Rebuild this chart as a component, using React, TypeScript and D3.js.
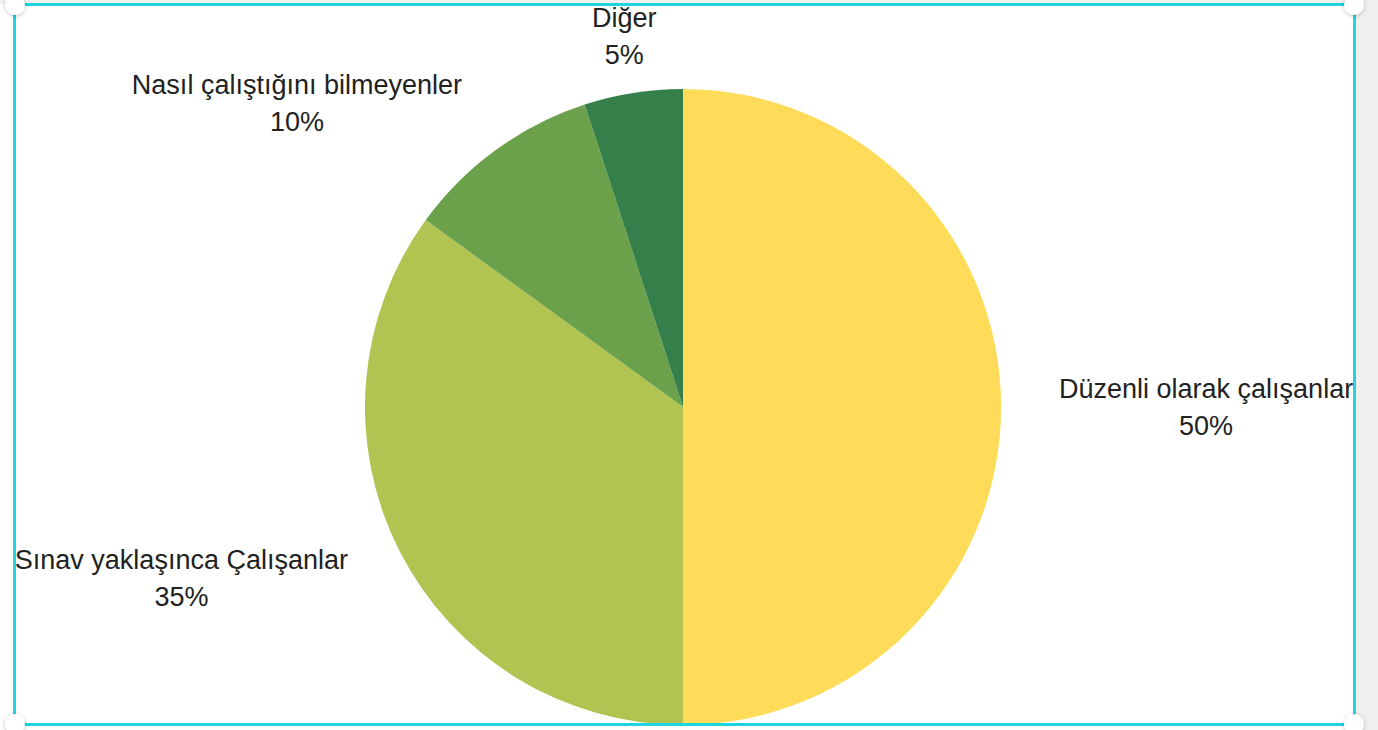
import React, { useEffect, useRef } from "react";
import * as d3 from "d3";

const categories = [
  "Düzenli olarak çalışanlar",
  "Sınav yaklaşınca Çalışanlar",
  "Nasıl çalıştığını bilmeyenler",
  "Diğer",
];
const values = [50, 35, 10, 5];
const colors = ["#fedc5a", "#b1c350", "#6ba14b", "#35804a"];

const App: React.FC = () => {
  const svgRef = useRef<SVGSVGElement | null>(null);

  useEffect(() => {
    const width = 1378;
    const height = 730;
    const cx = 683;
    const cy = 407;
    const radius = 318;
    const labelRadius = radius + 58;
    const fontSize = 27;
    const lineGap = 37;

    const svg = d3.select(svgRef.current);
    svg.selectAll("*").remove();
    svg.attr("width", width).attr("height", height);

    // page background + frame
    svg.append("rect").attr("width", width).attr("height", height).attr("fill", "#f0efee");
    svg.append("rect").attr("x", 0).attr("y", 4).attr("width", 1356).attr("height", height - 4).attr("fill", "#fff");

    const defs = svg.append("defs");
    defs.append("clipPath").attr("id", "frame")
      .append("rect").attr("x", 14).attr("y", 4).attr("width", 1341).attr("height", 721);
    const shadow = defs.append("filter").attr("id", "hshadow")
      .attr("x", "-50%").attr("y", "-50%").attr("width", "200%").attr("height", "200%");
    shadow.append("feDropShadow").attr("dx", 0).attr("dy", 1).attr("stdDeviation", 2)
      .attr("flood-color", "#000").attr("flood-opacity", 0.25);

    const body = svg.append("g").attr("clip-path", "url(#frame)");

    const pie = d3.pie<number>().sort(null).value(d => d);
    const arcs = pie(values);
    const arc = d3.arc<d3.PieArcDatum<number>>().innerRadius(0).outerRadius(radius);

    const g = body.append("g").attr("transform", `translate(${cx},${cy})`);
    g.selectAll("path")
      .data(arcs)
      .join("path")
      .attr("d", arc)
      .attr("fill", (_, i) => colors[i]);

    // labels outside each slice
    arcs.forEach((a, i) => {
      const mid = (a.startAngle + a.endAngle) / 2;
      const sx = Math.sin(mid);
      const px = labelRadius * sx;
      const py = -labelRadius * Math.cos(mid);
      const pct = `${Math.round((a.value / d3.sum(values)) * 100)}%`;

      const t = g.append("text")
        .attr("font-family", "Liberation Sans, Arial, sans-serif")
        .attr("font-size", fontSize)
        .attr("fill", "#222")
        .attr("text-anchor", "middle");
      const l1 = t.append("tspan").attr("x", px).attr("y", py - lineGap / 2).attr("dy", "0.35em").text(categories[i]);
      const l2 = t.append("tspan").attr("x", px).attr("y", py + lineGap / 2).attr("dy", "0.35em").text(pct);

      const w = (t.node() as SVGTextElement).getBBox().width;
      let x = px;
      if (sx > 0.3) x = px + w / 2;
      else if (sx < -0.3) x = px - w / 2;
      l1.attr("x", x);
      l2.attr("x", x);
    });

    // selection frame
    svg.append("rect")
      .attr("x", 14.5).attr("y", 4.5).attr("width", 1340).attr("height", 720)
      .attr("fill", "none").attr("stroke", "#1ed4e0").attr("stroke-width", 3);

    const corners: [number, number][] = [[15, 5], [1354, 5], [15, 724], [1354, 724]];
    svg.selectAll("circle.handle")
      .data(corners)
      .join("circle")
      .attr("class", "handle")
      .attr("cx", d => d[0]).attr("cy", d => d[1]).attr("r", 10)
      .attr("fill", "#fff").attr("filter", "url(#hshadow)");
  }, []);

  return <svg ref={svgRef} style={{ position: "absolute", left: 0, top: 0 }}></svg>;
};

export default App;
